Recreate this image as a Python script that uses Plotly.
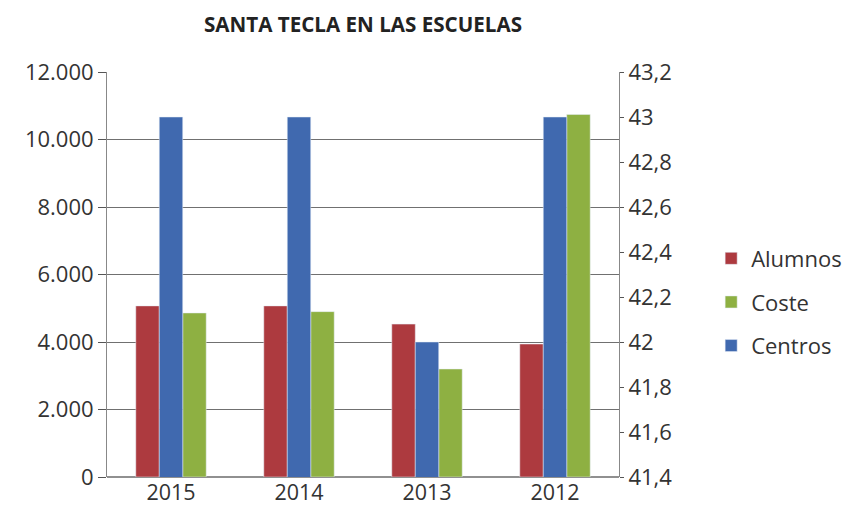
import plotly.graph_objects as go

years = ["2015", "2014", "2013", "2012"]
alumnos = [5070, 5070, 4530, 3940]
coste = [4860, 4900, 3200, 10740]
centros = [43, 43, 42, 43]

left_ticks = [0, 2000, 4000, 6000, 8000, 10000, 12000]

RED = "#AD3A3F"
GREEN = "#8EB042"
BLUE = "#4069AF"
FONT = "Open Sans"
TXT = "#333333"

fig = go.Figure()
fig.add_trace(go.Bar(x=years, y=alumnos, name="Alumnos", marker_color=RED,
                     offsetgroup="a", alignmentgroup="g", legendrank=1, legendgroup="a", yaxis="y"))
fig.add_trace(go.Bar(x=years, y=centros, name="Centros", marker_color=BLUE,
                     offsetgroup="b", alignmentgroup="g", legendrank=3, legendgroup="c", yaxis="y2"))
fig.add_trace(go.Bar(x=years, y=coste, name="Coste", marker_color=GREEN,
                     offsetgroup="c", alignmentgroup="g", legendrank=2, legendgroup="b", yaxis="y"))

W, H = 849, 506
fig.update_layout(
    width=W, height=H,
    margin=dict(l=107, r=230, t=72, b=29, autoexpand=False),
    paper_bgcolor="white", plot_bgcolor="white",
    separators=",.",
    barmode="group", bargap=0.45, bargroupgap=0,
    font=dict(family=FONT, size=22, color=TXT),
    title=dict(text="<b>SANTA TECLA EN LAS ESCUELAS</b>", x=0.5, xref="paper",
               y=1 - 25 / H, yref="container", yanchor="middle",
               font=dict(family=FONT, size=20.6, color="#222222")),
    xaxis=dict(showgrid=False, showline=False, ticks="",
               tickfont=dict(size=21.5), automargin=False),
    yaxis=dict(range=[0, 12000], tickvals=left_ticks, tickformat=",.0f",
               showgrid=True, gridcolor="#707070", gridwidth=1,
               showline=True, linecolor="#888888", linewidth=1,
               ticks="outside", ticklen=8, tickcolor="#555555",
               zeroline=True, zerolinecolor="#909090", zerolinewidth=2,
               automargin=False),
    yaxis2=dict(range=[41.4, 43.2], dtick=0.2, tick0=41.4, overlaying="y", side="right",
                showgrid=False, showline=True, linecolor="#888888", linewidth=1,
                ticks="outside", ticklen=4, tickcolor="#555555", zeroline=False,
                automargin=False),
    legend=dict(x=1.18, y=0.432, xanchor="left", yanchor="middle",
                font=dict(size=22, color=TXT), tracegroupgap=12,
                traceorder="grouped", bgcolor="rgba(0,0,0,0)"),
    showlegend=True,
)

fig.write_html("out.html", config={"displayModeBar": False},
               post_script="document.body.style.margin='0';document.body.style.overflow='hidden';")
